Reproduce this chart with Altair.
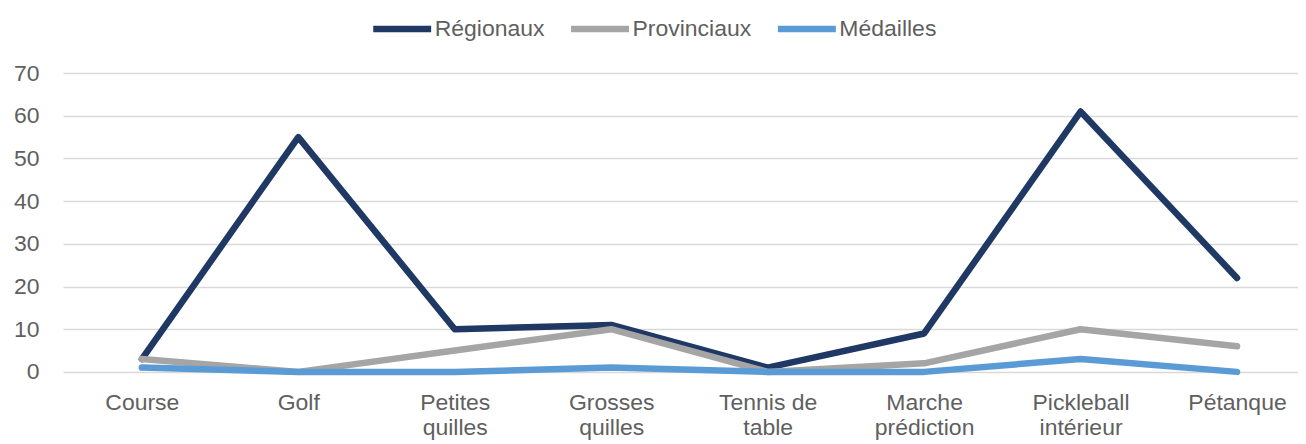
import altair as alt
import pandas as pd

categories = ["Course", "Golf", "Petites quilles", "Grosses quilles", "Tennis de table",
              "Marche prédiction", "Pickleball intérieur", "Pétanque"]
series_names = ["Régionaux", "Provinciaux", "Médailles"]
regionaux = [3, 55, 10, 11, 1, 9, 61, 22]
provinciaux = [3, 0, 5, 10, 0, 2, 10, 6]
medailles = [1, 0, 0, 1, 0, 0, 3, 0]
colors = ["#1f3864", "#a5a5a5", "#5b9bd5"]
y_ticks = [0, 10, 20, 30, 40, 50, 60, 70]

rows = []
for s, vals in zip(series_names, [regionaux, provinciaux, medailles]):
    for i, (c, v) in enumerate(zip(categories, vals)):
        rows.append({"Catégorie": c, "Série": s, "Valeur": v, "idx": i})
df = pd.DataFrame(rows)

FONT = "Liberation Sans"
TXT = "#5f5f5f"

label_expr = ("lastindexof(datum.value, ' ') > 0 ? "
              "[substring(datum.value, 0, lastindexof(datum.value, ' ')), "
              "substring(datum.value, lastindexof(datum.value, ' ') + 1)] : datum.value")

chart = alt.Chart(df).mark_line(
    strokeWidth=6.5, strokeCap="round", strokeJoin="round"
).encode(
    x=alt.X("Catégorie:N", sort=categories,
            scale=alt.Scale(type="point", padding=0.447, align=0.564),
            axis=alt.Axis(title=None, labelAngle=0, labelExpr=label_expr,
                          labelFontSize=23, labelColor=TXT, labelFont=FONT,
                          labelPadding=20, labelLineHeight=25, labelLimit=0,
                          domain=False, ticks=False, grid=False)),
    y=alt.Y("Valeur:Q", scale=alt.Scale(domain=[0, 70], nice=False),
            axis=alt.Axis(title=None, values=y_ticks, labelFontSize=23,
                          labelColor=TXT, labelFont=FONT, labelPadding=24,
                          domain=False, ticks=False, gridColor="#d9d9d9",
                          gridWidth=1.5)),
    color=alt.Color("Série:N", sort=series_names,
                    scale=alt.Scale(domain=series_names, range=colors),
                    legend=alt.Legend(title=None, orient="none", legendX=322,
                                      legendY=-62, direction="horizontal",
                                      symbolType="M-2.07,0H2.07", symbolSize=784,
                                      symbolStrokeWidth=6.5, labelFontSize=23,
                                      labelColor=TXT, labelFont=FONT,
                                      labelOffset=15, columnPadding=13)),
    order=alt.Order("idx:Q"),
).properties(
    width=1236, height=299,
    padding={"left": 5, "top": 3, "right": 0, "bottom": 0},
).configure_view(strokeWidth=0)

chart.save("out.html", embed_options={"renderer": "svg", "actions": False})
